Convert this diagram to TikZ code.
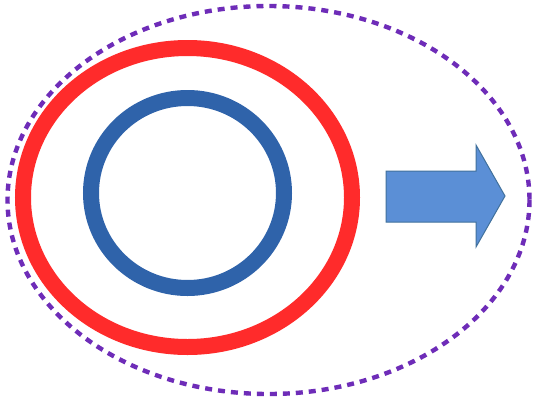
\documentclass[tikz,border=0pt]{standalone}
\definecolor{ringred}{HTML}{FF2B2B}
\definecolor{ringblue}{HTML}{2F63AA}
\definecolor{arrowfill}{HTML}{5B8FD6}
\definecolor{arrowedge}{HTML}{41719C}
\definecolor{dotpurple}{HTML}{6E2CB8}
\tikzset{
  outerdash/.style={draw=dotpurple, line width=4.4pt, dash pattern=on 7pt off 6pt},
  redring/.style={draw=ringred, line width=16pt},
  bluering/.style={draw=ringblue, line width=16pt},
  bigarrow/.style={fill=arrowfill, draw=arrowedge, line width=1pt, line join=miter}
}
\begin{document}
\begin{tikzpicture}[x=1pt,y=-1pt]
\useasboundingbox (0,0) rectangle (538,402);
\fill[white] (0,0) rectangle (538,402);
\draw[outerdash] (268.5,200) ellipse [x radius=261, y radius=194];
\draw[redring] (187.5,197.5) ellipse [x radius=164.5, y radius=149.5];
\draw[bluering] (187.5,193) ellipse [x radius=96.5, y radius=95];
\draw[bigarrow] (386,171) -- (476,171) -- (476,145) -- (505,196) -- (476,247) -- (476,222) -- (386,222) -- cycle;
\end{tikzpicture}
\end{document}
